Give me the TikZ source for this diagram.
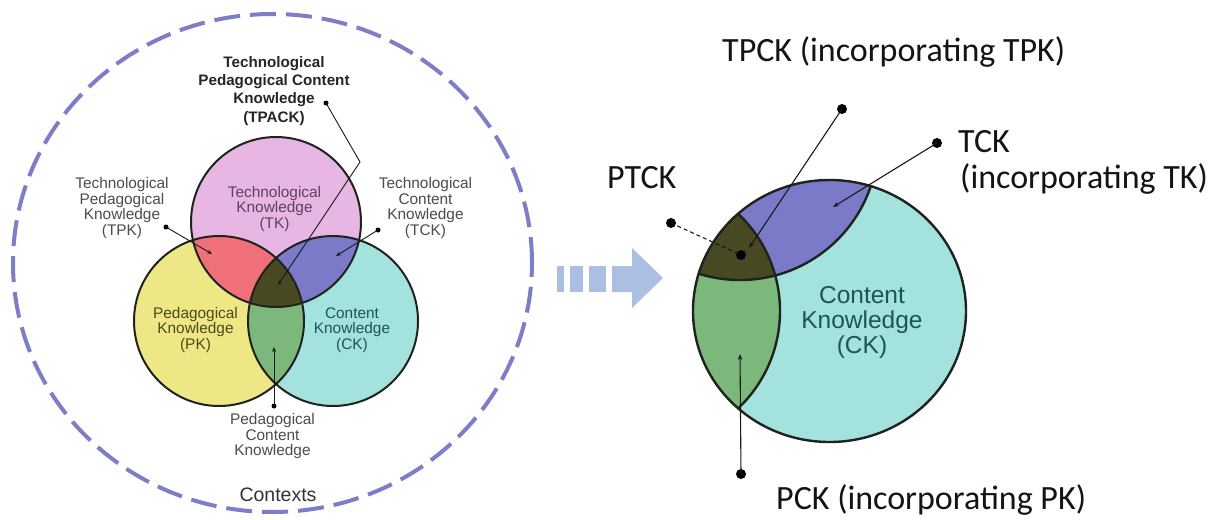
\documentclass[tikz,border=0pt]{standalone}
\usepackage{fontspec}
\setmainfont{Liberation Sans}
\newfontfamily\calib{Carlito}
\usetikzlibrary{arrows.meta}
\definecolor{tkc}{RGB}{231,182,226}
\definecolor{pkc}{RGB}{238,231,134}
\definecolor{ckc}{RGB}{163,226,221}
\definecolor{tpkc}{RGB}{240,112,122}
\definecolor{tckc}{RGB}{122,122,200}
\definecolor{pckc}{RGB}{124,184,124}
\definecolor{tpackc}{RGB}{72,72,34}
\definecolor{ctxc}{RGB}{125,125,200}
\definecolor{arrc}{RGB}{170,191,226}
\definecolor{outl}{RGB}{30,35,30}
\definecolor{tktext}{RGB}{95,65,95}
\definecolor{pktext}{RGB}{75,75,25}
\definecolor{cktext}{RGB}{30,85,85}
\begin{document}
\begin{tikzpicture}[x=1pt,y=-1pt,
  lbl/.style={align=center, text=black!70, font=\fontsize{15.4}{15.5}\selectfont, inner sep=0pt},
  biglbl/.style={align=center, text=black!85, font=\fontsize{15.2}{18.3}\selectfont\bfseries, inner sep=0pt},
  rlbl/.style={anchor=base west, text=black!92, font=\calib\fontsize{34}{35}\selectfont, inner sep=0pt},
  ptr/.style={draw=black!90, line width=0.9pt, -{Stealth[length=5pt,width=4pt]}},
  rptr/.style={draw=black!90, line width=1.1pt, -{Stealth[length=6pt,width=4.5pt]}},
  dotl/.style={fill=black, circle, inner sep=0pt, minimum size=5pt},
  dotr/.style={fill=black, circle, inner sep=0pt, minimum size=10pt},
  ring/.style={draw=outl, line width=2pt},
  rring/.style={draw=outl, line width=2.4pt},
]
\useasboundingbox (0,0) rectangle (1217,519);
\fill[white] (0,0) rectangle (1217,519);

% ---------- left: contexts ----------
\draw[ctxc, line width=4pt, dash pattern=on 26pt off 10pt] (272.5,263) ellipse [x radius=259.5pt, y radius=249pt];
\node[anchor=base, text=black!80, font=\fontsize{19.5}{20}\selectfont, inner sep=0pt] (ctx) at (278,501) {Contexts};

% ---------- left: Venn ----------
\coordinate (TKc) at (276,222);
\coordinate (PKc) at (219,321);
\coordinate (CKc) at (333,321);
\fill[tkc] (TKc) circle [radius=85pt];
\fill[pkc] (PKc) circle [radius=85pt];
\fill[ckc] (CKc) circle [radius=85pt];
\begin{scope}
  \clip (TKc) circle [radius=85pt];
  \fill[tpkc] (PKc) circle [radius=85pt];
  \fill[tckc] (CKc) circle [radius=85pt];
\end{scope}
\begin{scope}
  \clip (PKc) circle [radius=85pt];
  \fill[pckc] (CKc) circle [radius=85pt];
\end{scope}
\begin{scope}
  \clip (TKc) circle [radius=85pt];
  \clip (PKc) circle [radius=85pt];
  \fill[tpackc] (CKc) circle [radius=85pt];
\end{scope}
\draw[ring] (TKc) circle [radius=85pt];
\draw[ring] (PKc) circle [radius=85pt];
\draw[ring] (CKc) circle [radius=85pt];

\node[lbl, text=tktext] (tk) at (274.5,209) {Technological\\Knowledge\\(TK)};
\node[lbl, text=pktext] (pk) at (195.5,330) {Pedagogical\\Knowledge\\(PK)};
\node[lbl, text=cktext] (ck) at (352,330) {Content\\Knowledge\\(CK)};
\node[biglbl] (tpack) at (274,90.7) {Technological\\Pedagogical Content\\Knowledge\\(TPACK)};
\node[lbl] (tpk) at (122,208) {Technological\\Pedagogical\\Knowledge\\(TPK)};
\node[lbl] (tck) at (425.5,208) {Technological\\Content\\Knowledge\\(TCK)};
\node[lbl] (pck) at (272.5,436.5) {Pedagogical\\Content\\Knowledge};

\node[dotl] (tpkdot) at (166,227) {};
\coordinate (tpktip) at (212,254);
\node[dotl] (tckdot) at (378,230) {};
\coordinate (tcktip) at (336,256);
\node[dotl] (tpackdot) at (326,103) {};
\coordinate (tpackbend) at (360,162);
\coordinate (tpacktip) at (278,285);
\node[dotl] (pckdot) at (274,406) {};
\coordinate (pcktip) at (274,347);
\draw[ptr] (tpkdot.center) -- (tpktip);
\draw[ptr] (tckdot.center) -- (tcktip);
\draw[ptr] (tpackdot.center) -- (tpackbend) -- (tpacktip);
\draw[ptr] (pckdot.center) -- (pcktip);

% ---------- middle arrow ----------
\fill[arrc] (557,266) rectangle (564,292);
\fill[arrc] (570,266) rectangle (583,292);
\fill[arrc] (589,266) rectangle (606,292);
\fill[arrc] (612,266) -- (632,266) -- (632,248) -- (663,278) -- (632,308) -- (632,292) -- (612,292) -- cycle;

% ---------- right: zoomed CK ----------
\coordinate (rCK) at (829.5,311);
\coordinate (rPK) at (646,311);
\coordinate (rTK) at (740,142);
\begin{scope}
  \clip (rCK) ellipse [x radius=136.5pt, y radius=131pt];
  \fill[ckc] (rCK) ellipse [x radius=136.5pt, y radius=131pt];
  \fill[tckc] (rTK) circle [radius=138pt];
  \fill[pckc] (rPK) circle [radius=134pt];
  \begin{scope}
    \clip (rTK) circle [radius=138pt];
    \fill[tpackc] (rPK) circle [radius=134pt];
  \end{scope}
  \draw[rring] (rTK) circle [radius=138pt];
  \draw[rring] (rPK) circle [radius=134pt];
\end{scope}
\draw[rring] (rCK) ellipse [x radius=136.5pt, y radius=131pt];
\node[align=center, text=cktext, font=\fontsize{24.5}{25}\selectfont, inner sep=0pt] (rck) at (862,322) {Content\\Knowledge\\(CK)};

\node[rlbl] (rtpck) at (722,62) {TPCK (incorporating TPK)};
\node[rlbl] (rptck) at (607,188) {PTCK};
\node[rlbl] (rtck) at (958,152) {TCK};
\node[rlbl] (rtck2) at (960,188) {(incorporating TK)};
\node[rlbl] (rpck) at (776,509) {PCK (incorporating PK)};

\node[dotr] (rtpckdot) at (842,109) {};
\coordinate (rtpcktip) at (749,248);
\node[dotr] (rtckdot) at (937,143) {};
\coordinate (rtcktip) at (833,207);
\node[dotr] (rpckdot) at (741,474) {};
\coordinate (rpcktip) at (740,354);
\node[dotr] (rptckdot) at (671,223) {};
\node[dotr] (rptckend) at (741,255) {};
\draw[rptr] (rtpckdot.center) -- (rtpcktip);
\draw[rptr] (rtckdot.center) -- (rtcktip);
\draw[rptr] (rpckdot.center) -- (rpcktip);
\draw[draw=black!90, line width=1.1pt, dash pattern=on 4pt off 3pt] (rptckdot.center) -- (rptckend.center);
\end{tikzpicture}
\end{document}
